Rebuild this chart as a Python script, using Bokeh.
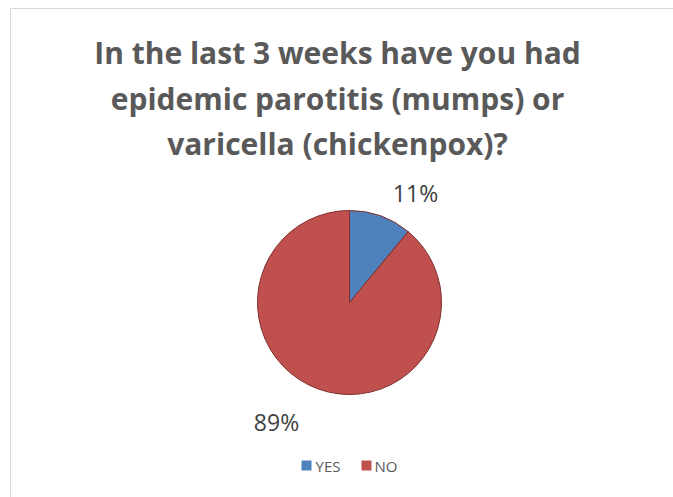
import numpy as np
from bokeh.plotting import figure
from bokeh.models import Range1d, ColumnDataSource
from bokeh.core.properties import value
from bokeh.embed import file_html
from bokeh.resources import INLINE

categories = ["YES", "NO"]
shares = [11, 89]
colors = ["#4F81BD", "#C0504D"]
label_texts = ["11%", "89%"]
title_lines = ["In the last 3 weeks have you had",
               "epidemic parotitis (mumps) or",
               "varicella (chickenpox)?"]

W, H = 673, 497
p = figure(width=W, height=H, output_backend="svg", toolbar_location=None,
           x_range=Range1d(0, W), y_range=Range1d(0, H), min_border=0)
p.axis.visible = False
p.grid.visible = False
p.outline_line_color = None
p.background_fill_color = "white"
p.border_fill_color = "white"

# chart border
p.quad(left=[10], right=[W + 5], bottom=[-5], top=[H - 8], fill_color=None,
       line_color="#D9D9D9", line_width=1)

# title
p.text(x=[337] * 3, y=[H - 52, H - 98, H - 143], text=title_lines,
       text_font=value("Open Sans"), text_font_style="bold", text_font_size="30px",
       text_color="#595959", text_align="center", text_baseline="middle")

# pie
vals = np.array(shares, dtype=float)
frac = vals / vals.sum()
cum = np.concatenate([[0], np.cumsum(frac)])
start = np.pi / 2 - 2 * np.pi * cum[:-1]
end = np.pi / 2 - 2 * np.pi * cum[1:]
src = ColumnDataSource(dict(start=start, end=end, color=colors, cat=categories))
cx, cy, r = 349, H - 302, 92
p.wedge(x=cx, y=cy, radius=r, start_angle="start", end_angle="end",
        direction="clock", fill_color="color", line_color="#7F2F2D",
        line_width=1, source=src)

# data labels
p.text(x=[415, 276], y=[H - 192, H - 421], text=label_texts,
       text_font=value("Open Sans"), text_font_size="23px", text_color="#404040",
       text_align="center", text_baseline="middle")

# legend
p.scatter(x=[306, 366], y=[H - 465] * 2, marker="square", size=10,
          fill_color=colors, line_color=None)
p.text(x=[315, 374], y=[H - 465] * 2, text=categories,
       text_font=value("Open Sans"), text_font_size="15px", text_color="#595959",
       text_align="left", text_baseline="middle")

open("out.html", "w").write(file_html(p, INLINE))
